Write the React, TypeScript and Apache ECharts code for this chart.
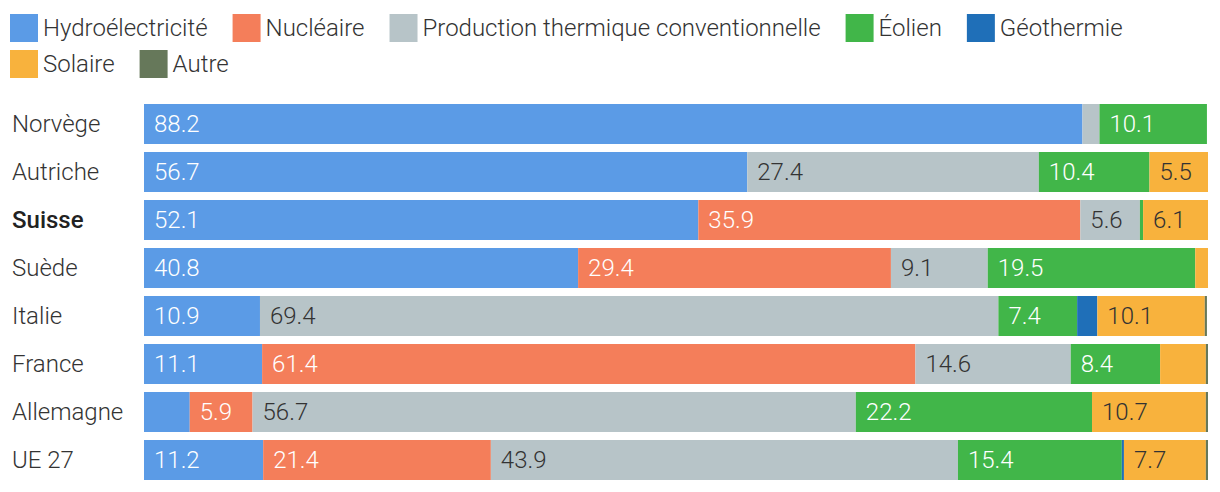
import React, { useEffect, useRef } from "react";
import * as echarts from "echarts";

const categories = ["Norvège", "Autriche", "Suisse", "Suède", "Italie", "France", "Allemagne", "UE 27"];
const seriesNames = [
  "Hydroélectricité",
  "Nucléaire",
  "Production thermique conventionnelle",
  "Éolien",
  "Géothermie",
  "Solaire",
  "Autre",
];
const hydro = [88.2, 56.7, 52.1, 40.8, 10.9, 11.1, 4.3, 11.2];
const nucleaire = [0, 0, 35.9, 29.4, 0, 61.4, 5.9, 21.4];
const thermique = [1.6, 27.4, 5.6, 9.1, 69.4, 14.6, 56.7, 43.9];
const eolien = [10.1, 10.4, 0.3, 19.5, 7.4, 8.4, 22.2, 15.4];
const geothermie = [0, 0, 0, 0, 1.9, 0, 0, 0.2];
const solaire = [0, 5.5, 6.1, 1.2, 10.1, 4.3, 10.7, 7.7];
const autre = [0, 0, 0, 0, 0.2, 0.2, 0.2, 0.2];

const values = [hydro, nucleaire, thermique, eolien, geothermie, solaire, autre];
const colors = ["#5b9be6", "#f47e5a", "#b7c4c8", "#41b649", "#1f6fb8", "#f8b23d", "#66785a"];
const labelColors = ["#ffffff", "#ffffff", "#333333", "#ffffff", "#ffffff", "#333333", "#ffffff"];

const FONT = "Roboto";

export default function App() {
  const ref = useRef<HTMLDivElement>(null);
  useEffect(() => {
    document.body.style.margin = "0";
    if (!ref.current) return;
    const chart = echarts.init(ref.current, null, { renderer: "svg" });
    const legendText = { fontFamily: FONT, fontSize: 24, color: "#333", fontWeight: 300 };
    const legendBase = {
      left: 10,
      padding: 0,
      itemWidth: 28,
      itemHeight: 28,
      itemGap: 25,
      icon: "rect",
      textStyle: legendText,
    };
    chart.setOption({
      animation: false,
      legend: [
        { ...legendBase, data: seriesNames.slice(0, 5), top: 14 },
        { ...legendBase, data: seriesNames.slice(5), top: 50 },
      ],
      grid: { left: 144, right: 12, top: 100, bottom: 8, containLabel: false },
      xAxis: {
        type: "value",
        min: 0,
        max: 100,
        show: false,
      },
      yAxis: {
        type: "category",
        data: categories,
        inverse: true,
        axisLine: { show: false },
        axisTick: { show: false },
        axisLabel: {
          align: "left",
          margin: 132,
          fontFamily: FONT,
          fontSize: 24,
          color: "#333",
          fontWeight: 300,
          formatter: (v: string) => (v === "Suisse" ? "{b|" + v + "}" : v),
          rich: {
            b: { fontFamily: FONT, fontSize: 24, color: "#222", fontWeight: 500 },
          },
        },
      },
      series: seriesNames.map((name, i) => ({
        name,
        type: "bar",
        stack: "total",
        barWidth: 40,
        data: values[i],
        itemStyle: { color: colors[i] },
        label: {
          show: true,
          position: "insideLeft",
          distance: 10,
          fontFamily: FONT,
          fontSize: 24,
          fontWeight: 300,
          color: labelColors[i],
          formatter: (p: any) => (p.value >= 5 ? Number(p.value).toFixed(1) : ""),
        },
      })),
    });
    return () => chart.dispose();
  }, []);
  return <div ref={ref} style={{ width: 1220, height: 492 }} />;
}
